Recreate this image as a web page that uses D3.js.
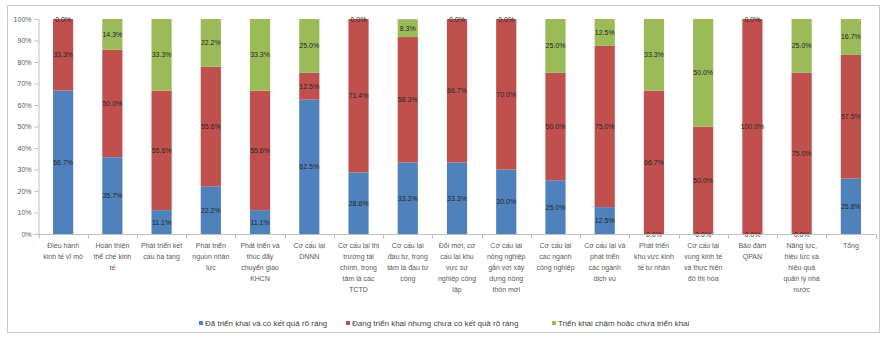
<!DOCTYPE html>
<html><head><meta charset="utf-8">
<script src="https://cdn.jsdelivr.net/npm/d3@7"></script>
<style>html,body{margin:0;padding:0;background:#fff;}svg{display:block;font-family:"Liberation Sans",Arial,sans-serif;}</style>
</head><body>
<svg id="c" width="883" height="340"></svg>
<script>
const categories = [
  "Điều hành\nkinh tế vĩ mô",
  "Hoàn thiện\nthể chế kinh\ntế",
  "Phát triển kết\ncấu hạ tầng",
  "Phát triển\nnguồn nhân\nlực",
  "Phát triển và\nthúc đẩy\nchuyển giao\nKHCN",
  "Cơ cấu lại\nDNNN",
  "Cơ cấu lại thị\ntrường tài\nchính, trọng\ntâm là các\nTCTD",
  "Cơ cấu lại\nđầu tư, trọng\ntâm là đầu tư\ncông",
  "Đổi mới, cơ\ncấu lại khu\nvực sự\nnghiệp công\nlập",
  "Cơ cấu lại\nnông nghiệp\ngắn với xây\ndựng nông\nthôn mới",
  "Cơ cấu lại\ncác ngành\ncông nghiệp",
  "Cơ cấu lại và\nphát triển\ncác ngành\ndịch vụ",
  "Phát triển\nkhu vực kinh\ntế tư nhân",
  "Cơ cấu lại\nvùng kinh tế\nvà thực hiện\nđô thị hóa",
  "Bảo đảm\nQPAN",
  "Năng lực,\nhiệu lực và\nhiệu quả\nquản lý nhà\nnước",
  "Tổng"
];
const seriesNames = [
  "Đã triển khai và có kết quả rõ ràng",
  "Đang triển khai nhưng chưa có kết quả rõ ràng",
  "Triển khai chậm hoặc chưa triển khai"
];
const done     = [66.7, 35.7, 11.1, 22.2, 11.1, 62.5, 28.6, 33.3, 33.3, 30.0, 25.0, 12.5, 0.0, 0.0, 0.0, 0.0, 25.8];
const ongoing  = [33.3, 50.0, 55.6, 55.6, 55.6, 12.5, 71.4, 58.3, 66.7, 70.0, 50.0, 75.0, 66.7, 50.0, 100.0, 75.0, 57.5];
const delayed  = [0.0, 14.3, 33.3, 22.2, 33.3, 25.0, 0.0, 8.3, 0.0, 0.0, 25.0, 12.5, 33.3, 50.0, 0.0, 25.0, 16.7];
const yTicks = [0, 10, 20, 30, 40, 50, 60, 70, 80, 90, 100];
const colors = ["#4F81BD", "#C0504D", "#9BBB59"];

const svg = d3.select("#c");
svg.append("rect").attr("x",7.5).attr("y",5.5).attr("width",872).attr("height",327)
  .attr("fill","#fff").attr("stroke","#c8c8c8");

const x = d3.scaleBand().domain(d3.range(categories.length)).range([38.5, 875.5]).paddingInner(0.59).paddingOuter(0.295);
const y = d3.scaleLinear().domain([0, 100]).range([234, 19]);

const rows = categories.map((c,i)=>({i, s0: done[i], s1: ongoing[i], s2: delayed[i]}));
const stack = d3.stack().keys(["s0","s1","s2"])(rows);

const g = svg.append("g");
stack.forEach((layer, k) => {
  g.selectAll(null).data(layer).enter().append("rect")
    .attr("x", d => x(d.data.i))
    .attr("width", x.bandwidth())
    .attr("y", d => y(d[1]))
    .attr("height", d => y(d[0]) - y(d[1]))
    .attr("fill", colors[k]);
});
stack.forEach((layer, k) => {
  g.selectAll(null).data(layer).enter().append("text")
    .attr("x", d => x(d.data.i) + x.bandwidth()/2)
    .attr("y", d => y((d[0]+d[1])/2) + 2.5)
    .attr("text-anchor","middle")
    .attr("font-size", 7)
    .attr("fill", "#262626")
    .text(d => (d[1]-d[0]).toFixed(1) + "%");
});

// y axis
const ya = svg.append("g").attr("transform","translate(38.5,0)")
  .call(d3.axisLeft(y).tickValues(yTicks).tickFormat(d => d + "%").tickSize(4).tickPadding(3));
ya.select(".domain").attr("stroke","#bfbfbf");
ya.selectAll(".tick line").attr("stroke","#bfbfbf");
ya.selectAll(".tick text").attr("font-size",7).attr("fill","#595959").attr("font-family","Liberation Sans, Arial, sans-serif");

// x axis
const xa = svg.append("g").attr("transform","translate(0,234.5)");
xa.append("line").attr("x1",38.5).attr("x2",875.5).attr("stroke","#bfbfbf");
const step = x.step();
xa.selectAll(null).data(d3.range(categories.length+1)).enter().append("line")
  .attr("x1", i => Math.round(38.5 + i*step)+0.5).attr("x2", i => Math.round(38.5 + i*step)+0.5)
  .attr("y1",0).attr("y2",4).attr("stroke","#bfbfbf");
categories.forEach((c,i) => {
  const t = xa.append("text").attr("text-anchor","middle").attr("font-size",7).attr("fill","#595959")
    .attr("transform", `translate(${x(i)+x.bandwidth()/2},13)`);
  c.split("\n").forEach((line, j) => {
    t.append("tspan").attr("x",0).attr("y", j*11).text(line);
  });
});

// legend
const legendX = [199, 346, 552];
seriesNames.forEach((n,k) => {
  const lg = svg.append("g").attr("transform",`translate(${legendX[k]},326)`);
  lg.append("rect").attr("x",0).attr("y",-5).attr("width",4).attr("height",4).attr("fill",colors[k]);
  lg.append("text").attr("x",6).attr("y",0).attr("font-size",8).attr("fill","#404040").text(n);
});
</script>
</body></html>
